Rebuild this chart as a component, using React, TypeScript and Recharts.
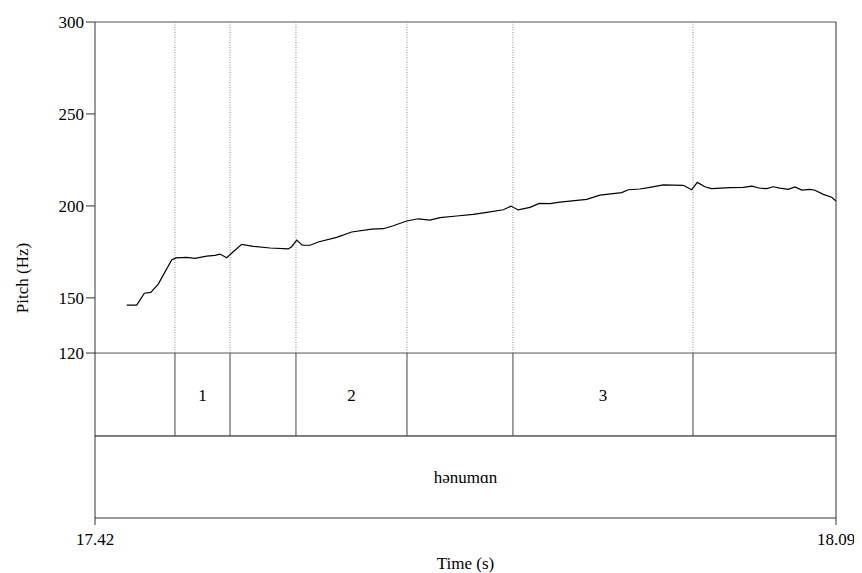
import {
  ComposedChart,
  Line,
  XAxis,
  YAxis,
  ReferenceLine,
  ReferenceArea
} from 'recharts';

// pitch track (time in s, pitch in Hz)
const times = [
  17.4487, 17.4577, 17.4646, 17.4704, 17.4772, 17.4893, 17.4932, 17.5029, 17.5104, 17.521,
  17.5285, 17.533, 17.5391, 17.545, 17.5526, 17.5631, 17.5782, 17.5948, 17.5978, 17.6024,
  17.6074, 17.6144, 17.6219, 17.6385, 17.6521, 17.6702, 17.6807, 17.6897, 17.7018, 17.7123,
  17.7229, 17.7319, 17.747, 17.762, 17.7742, 17.7892, 17.7961, 17.8027, 17.8133, 17.8217,
  17.8314, 17.8404, 17.8646, 17.8766, 17.8962, 17.9022, 17.9128, 17.9218, 17.9338, 17.9519,
  17.9595, 17.9646, 17.9715, 17.9776, 17.9941, 18.0062, 18.0138, 18.0213, 18.0273, 18.0333,
  18.0393, 18.0469, 18.0529, 18.059, 18.0665, 18.071, 18.0785, 18.0861, 18.09
];
const pitch = [
  146.1, 146.1, 152.5, 153.0, 157.5, 170.6, 171.7, 172.0, 171.5, 172.7,
  173.1, 173.8, 171.8, 175.1, 179.1, 178.0, 177.1, 176.6, 177.8, 181.4,
  178.6, 178.6, 180.4, 182.9, 185.8, 187.4, 187.6, 189.2, 191.8, 193.0,
  192.3, 193.6, 194.5, 195.4, 196.5, 197.9, 199.9, 197.8, 199.2, 201.4,
  201.2, 202.1, 203.6, 205.9, 207.2, 208.8, 209.2, 210.1, 211.4, 211.2,
  208.8, 212.8, 210.4, 209.4, 209.9, 210.1, 210.7, 209.6, 209.4, 210.4,
  209.7, 209.0, 210.3, 208.6, 209.0, 208.5, 206.3, 204.7, 202.7
];

const xTicks = [17.42, 18.09];
const yTicks = [120, 150, 200, 250, 300];

// syllable tier: boundaries and labelled intervals
const boundaries = [17.4923, 17.5421, 17.6017, 17.7021, 17.7979, 17.9607];
const syllables = [
  { from: 17.4923, to: 17.5421, text: '1' },
  { from: 17.6017, to: 17.7021, text: '2' },
  { from: 17.7979, to: 17.9607, text: '3' }
];
const word = { from: 17.42, to: 18.09, text: 'hənumɑn' };

// the tiers sit below the pitch range, in the same y units
const PITCH_MIN = 120;
const TIER_SPLIT = 74.9;
const TIER_FLOOR = 30.3;

const data = times.map((t, i) => ({ t, hz: pitch[i] }));

const font = "'Liberation Serif', Tinos, 'Times New Roman', 'DejaVu Serif', serif";

function PitchLabel(props: any) {
  const vb = props.viewBox || {};
  const cx = vb.x - 13;
  const cy = vb.y + vb.height / 2 + 8;
  return (
    <text x={cx} y={cy} transform={`rotate(-90 ${cx} ${cy})`} textAnchor="middle"
      dominantBaseline="central" style={{ fontFamily: font }} fontSize={17} fill="#000">
      Pitch (Hz)
    </text>
  );
}

function TimeLabel(props: any) {
  const vb = props.viewBox || {};
  return (
    <text x={vb.x + vb.width / 2} y={vb.y + 45} textAnchor="middle"
      dominantBaseline="central" style={{ fontFamily: font }} fontSize={17} fill="#000">
      Time (s)
    </text>
  );
}

export default function App() {
  const tick = { fontSize: 17, fill: '#000', style: { fontFamily: font } };
  const lbl = { fontSize: 17, fill: '#000', style: { fontFamily: font } };
  return (
    <div style={{ width: 854, height: 565, background: '#fff', fontFamily: font }}>
      <ComposedChart
        width={854}
        height={565}
        data={data}
        margin={{ top: 14, right: 26, left: 27, bottom: 25 }}
        style={{ fontFamily: font }}
      >
        <XAxis
          dataKey="t"
          type="number"
          domain={[17.42, 18.09]}
          ticks={xTicks}
          allowDataOverflow
          height={30}
          tickSize={7}
          tickMargin={8}
          stroke="#333"
          tick={tick}
          label={<TimeLabel />}
        />
        <YAxis
          type="number"
          domain={[TIER_FLOOR, 300]}
          ticks={yTicks}
          allowDataOverflow
          width={60}
          tickSize={9}
          tickMargin={2}
          stroke="#333"
          tick={tick}
          label={<PitchLabel />}
        />
        <ReferenceLine y={300} stroke="#555" />
        <ReferenceLine y={PITCH_MIN} stroke="#555" />
        <ReferenceLine y={TIER_SPLIT} stroke="#000" />
        <ReferenceLine x={18.09} stroke="#333" />
        {boundaries.map((b) => (
          <ReferenceLine key={'d' + b} segment={[{ x: b, y: PITCH_MIN }, { x: b, y: 300 }]}
            stroke="#888" strokeDasharray="1 1.5" />
        ))}
        {boundaries.map((b) => (
          <ReferenceLine key={'s' + b} segment={[{ x: b, y: TIER_SPLIT }, { x: b, y: PITCH_MIN }]}
            stroke="#444" />
        ))}
        {syllables.map((s) => (
          <ReferenceArea key={s.text} x1={s.from} x2={s.to} y1={TIER_SPLIT} y2={PITCH_MIN}
            fill="none" stroke="none"
            label={{ value: s.text, position: 'center', ...lbl }} />
        ))}
        <ReferenceArea x1={word.from} x2={word.to} y1={TIER_FLOOR} y2={TIER_SPLIT}
          fill="none" stroke="none"
          label={{ value: word.text, position: 'center', ...lbl }} />
        <Line
          type="linear"
          dataKey="hz"
          stroke="#000"
          strokeWidth={1.2}
          dot={false}
          isAnimationActive={false}
        />
      </ComposedChart>
    </div>
  );
}
